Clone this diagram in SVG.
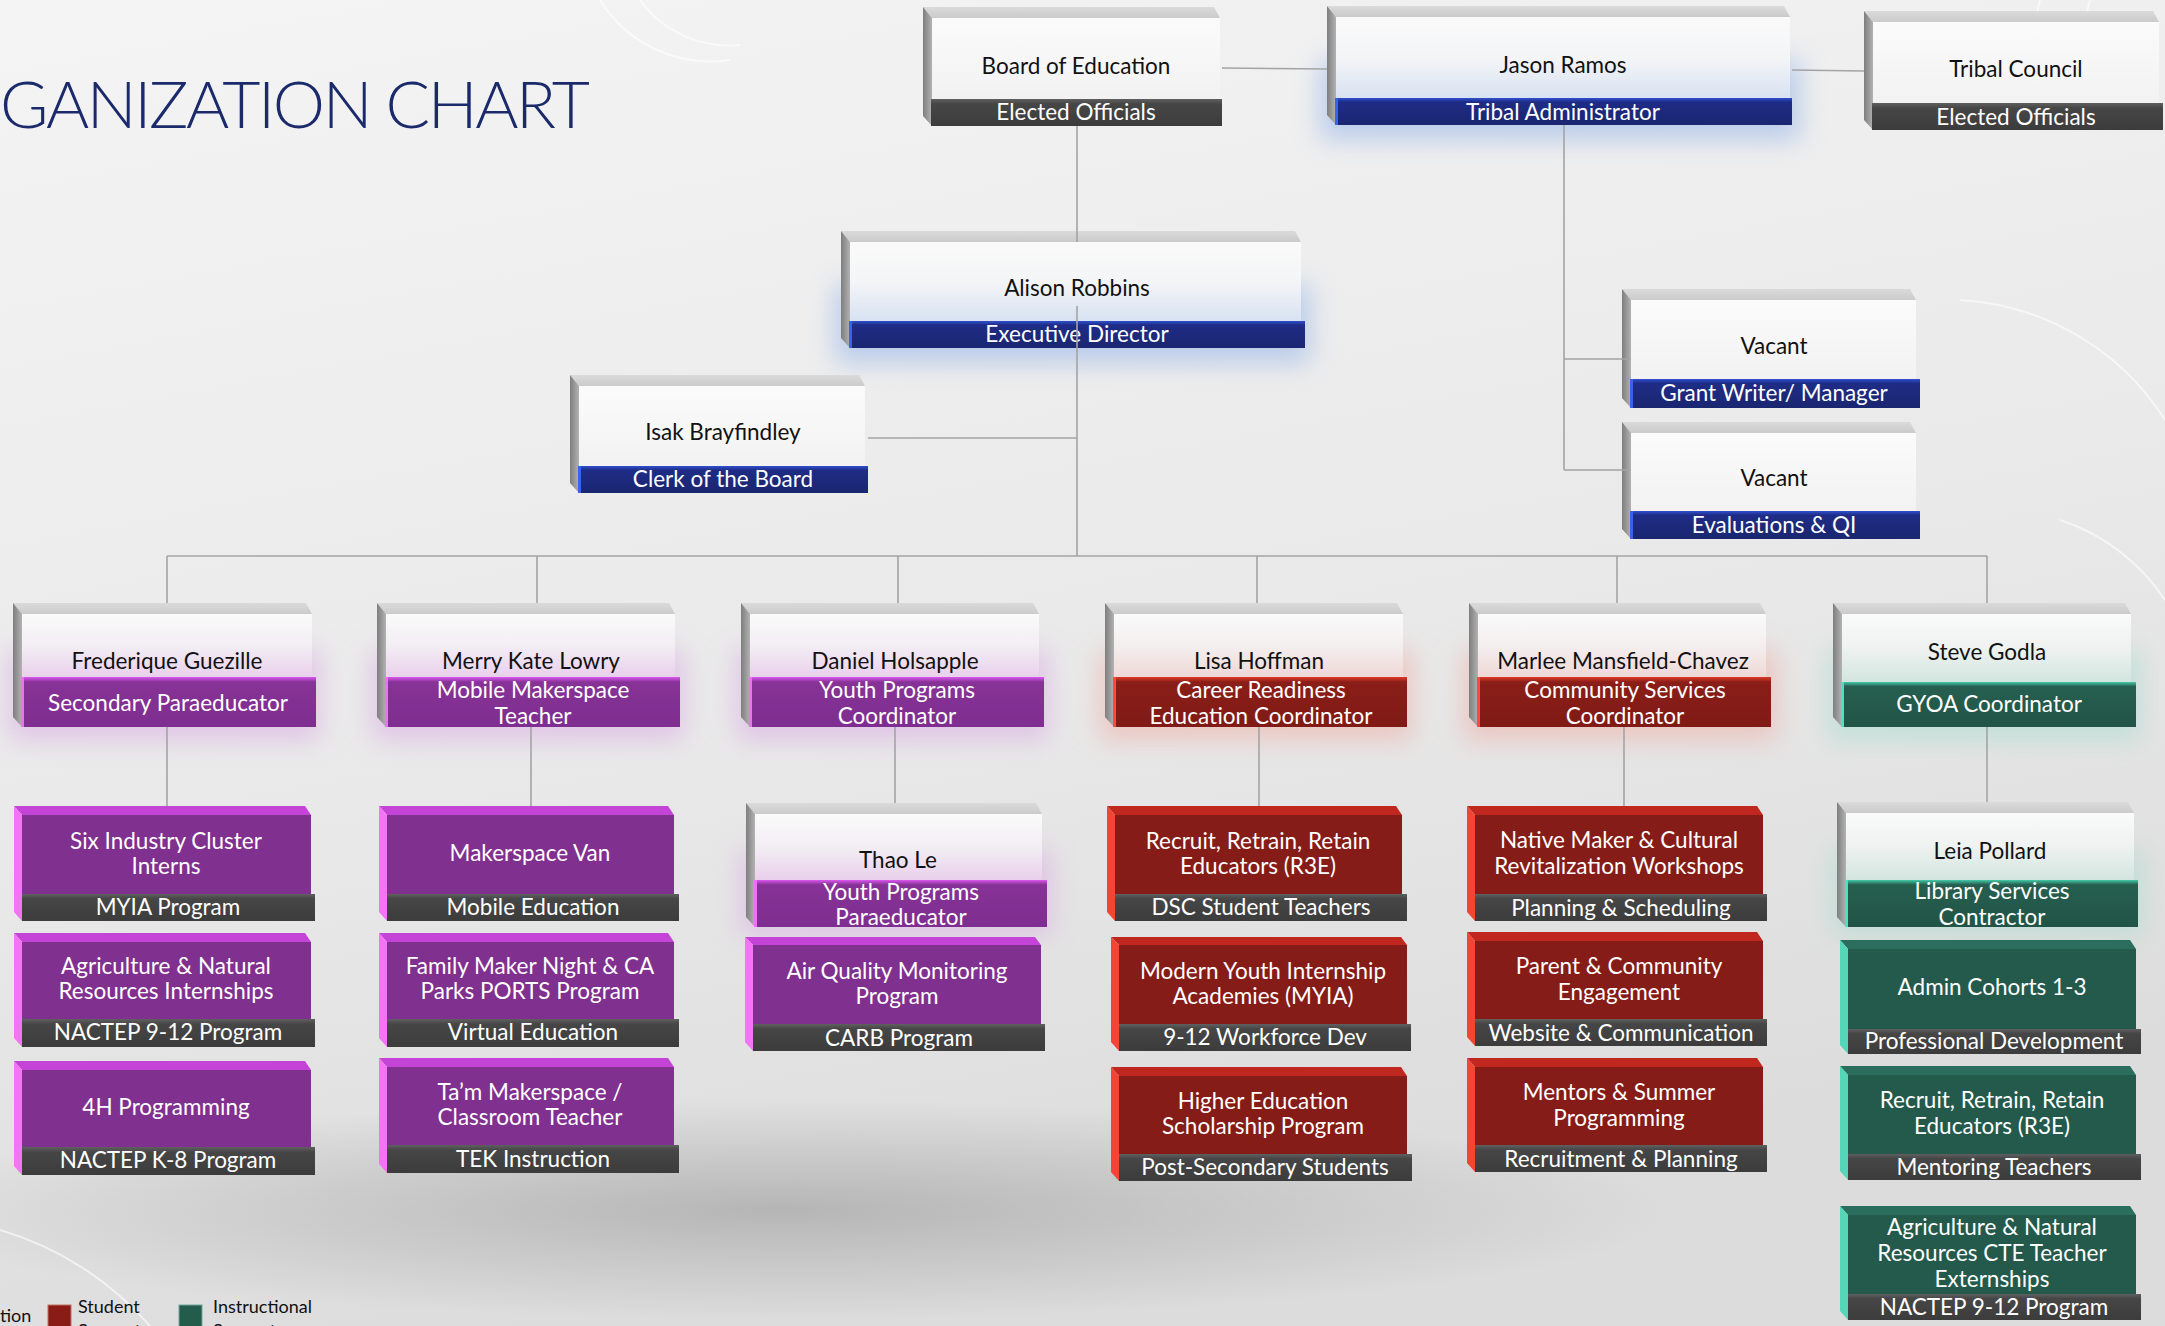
<svg xmlns="http://www.w3.org/2000/svg" width="2165" height="1326" viewBox="0 0 2165 1326">
<defs>
<style>
.nm{font-family:Lato,"Liberation Sans",sans-serif;font-size:22.5px;fill:#111;text-anchor:middle}
.bt{font-family:Lato,"Liberation Sans",sans-serif;font-size:22.5px;fill:#ffffff;text-anchor:middle}
.lg{font-family:Lato,"Liberation Sans",sans-serif;font-size:18px;fill:#111}
.tp{fill:url(#topG)}
.sd{fill:url(#sideG)}
.fw{fill:url(#fWhite)}
.fb{fill:url(#fBlue)}
.fp{fill:url(#fPurple)}
.fr{fill:url(#fRed)}
.fg{fill:url(#fGreen)}
.bd{fill:url(#barDark)}
.bb{fill:url(#barBlue)}
.bp{fill:url(#barPurple)}
.br{fill:url(#barRed)}
.bg{fill:url(#barGreen)}
.pt{fill:#c344d6}.ps{fill:#f374f4}.pf{fill:#80308f}
.rt{fill:#c0281f}.rs{fill:#f24533}.rf{fill:#861c17}
.gt{fill:#2c6e5e}.gs{fill:#56d6b8}.gf{fill:#245a4c}
.eb{fill:#3a62ea}.ep{fill:#f070f4}.er{fill:#ff4a36}.eg{fill:#4fe0c0}
</style>
<linearGradient id="bgG" x1="0" y1="0" x2="0.3" y2="1">
<stop offset="0" stop-color="#f4f4f4"/><stop offset="0.6" stop-color="#e9e9e9"/><stop offset="1" stop-color="#dcdcdc"/>
</linearGradient>
<radialGradient id="shadowG" cx="0.5" cy="0.5" r="0.5">
<stop offset="0" stop-color="#a8a8a8" stop-opacity="0.75"/><stop offset="1" stop-color="#a8a8a8" stop-opacity="0"/>
</radialGradient>
<linearGradient id="topG" x1="0" y1="0" x2="0" y2="1"><stop offset="0" stop-color="#dadada"/><stop offset="1" stop-color="#cbcbcb"/></linearGradient>
<linearGradient id="sideG" x1="0" y1="0" x2="1" y2="0"><stop offset="0" stop-color="#7e7e7e"/><stop offset="1" stop-color="#b2b2b2"/></linearGradient>
<linearGradient id="fWhite" x1="0" y1="0" x2="0" y2="1"><stop offset="0" stop-color="#fbfbfb"/><stop offset="1" stop-color="#f2f2f2"/></linearGradient>
<linearGradient id="fBlue" x1="0" y1="0" x2="0" y2="1"><stop offset="0" stop-color="#fafafa"/><stop offset="0.5" stop-color="#f4f5f7"/><stop offset="1" stop-color="#d8e2f2"/></linearGradient>
<linearGradient id="fPurple" x1="0" y1="0" x2="0" y2="1"><stop offset="0" stop-color="#fafafa"/><stop offset="0.5" stop-color="#f3eef4"/><stop offset="1" stop-color="#e9d0ec"/></linearGradient>
<linearGradient id="fRed" x1="0" y1="0" x2="0" y2="1"><stop offset="0" stop-color="#fafafa"/><stop offset="0.5" stop-color="#f4efef"/><stop offset="1" stop-color="#efd8d6"/></linearGradient>
<linearGradient id="fGreen" x1="0" y1="0" x2="0" y2="1"><stop offset="0" stop-color="#fafafa"/><stop offset="0.5" stop-color="#eef2f1"/><stop offset="1" stop-color="#d3e5df"/></linearGradient>
<linearGradient id="barDark" x1="0" y1="0" x2="0" y2="1"><stop offset="0" stop-color="#606060"/><stop offset="0.18" stop-color="#464646"/><stop offset="1" stop-color="#3c3c3c"/></linearGradient>
<linearGradient id="barBlue" x1="0" y1="0" x2="0" y2="1"><stop offset="0" stop-color="#3050d0"/><stop offset="0.15" stop-color="#1e2c86"/><stop offset="1" stop-color="#1a2670"/></linearGradient>
<linearGradient id="barPurple" x1="0" y1="0" x2="0" y2="1"><stop offset="0" stop-color="#dc58f0"/><stop offset="0.1" stop-color="#873296"/><stop offset="1" stop-color="#7e2e90"/></linearGradient>
<linearGradient id="barRed" x1="0" y1="0" x2="0" y2="1"><stop offset="0" stop-color="#e23a26"/><stop offset="0.1" stop-color="#8a1e18"/><stop offset="1" stop-color="#801a15"/></linearGradient>
<linearGradient id="barGreen" x1="0" y1="0" x2="0" y2="1"><stop offset="0" stop-color="#44caa8"/><stop offset="0.1" stop-color="#265f50"/><stop offset="1" stop-color="#215446"/></linearGradient>
<filter id="glow" x="-30%" y="-60%" width="160%" height="220%"><feGaussianBlur stdDeviation="13"/></filter>
</defs>

<rect x="0" y="0" width="2165" height="1326" fill="url(#bgG)"/>
<ellipse cx="780" cy="1210" rx="900" ry="110" fill="url(#shadowG)"/>
<g fill="none" stroke="#ffffff" stroke-opacity="0.6" stroke-width="2">
<path d="M600,0 A130,130 0 0 0 730,60"/>
<path d="M640,0 A110,110 0 0 0 740,45"/>
<path d="M2165,420 A260,260 0 0 0 1960,300"/>
<path d="M2165,600 A200,200 0 0 0 2060,520"/>
<path d="M0,1230 A320,320 0 0 1 150,1326"/>
<path d="M2040,0 L2010,120 M2090,0 L2060,120"/>
</g>

<text x="0" y="128" font-family="Lato,'Liberation Sans',sans-serif" font-weight="300" font-size="66" fill="#1b2a6b" textLength="590" lengthAdjust="spacing">GANIZATION CHART</text>

<g filter="url(#glow)" opacity="0.55">
<rect x="1320" y="60" width="480" height="80" fill="#8fb0e8"/>
<rect x="835" y="285" width="475" height="78" fill="#8fb0e8"/>
<rect x="8" y="650" width="312" height="90" fill="#d9a6e4"/>
<rect x="372" y="650" width="312" height="90" fill="#d9a6e4"/>
<rect x="736" y="650" width="312" height="90" fill="#d9a6e4"/>
<rect x="1100" y="650" width="312" height="90" fill="#eeaaa2"/>
<rect x="1464" y="650" width="312" height="90" fill="#eeaaa2"/>
<rect x="1828" y="650" width="312" height="90" fill="#a6dccd"/>
<rect x="741" y="850" width="310" height="85" fill="#d9a6e4"/>
<rect x="1832" y="850" width="310" height="85" fill="#a6dccd"/>
</g>

<g id="board">
<polygon class="tp" points="923,7 1214,7 1220,18 932,18"/>
<polygon class="sd" points="923,7 932,18 932,126 923,116"/>
<rect class="fw" x="932" y="18" width="288" height="81"/>
<rect class="bd" x="931" y="99" width="291" height="27"/>
<text class="nm" x="1076" y="74">Board of Education</text>
<text class="bt" x="1076" y="120">Elected Officials</text>
</g>

<g id="jason">
<polygon class="tp" points="1327,6 1784,6 1790,17 1336,17"/>
<polygon class="sd" points="1327,6 1336,17 1336,125 1327,115"/>
<rect class="fb" x="1336" y="17" width="454" height="81"/>
<rect class="bb" x="1335" y="98" width="457" height="27"/>
<rect class="eb" x="1335" y="98" width="3" height="27"/>
<text class="nm" x="1563" y="73">Jason Ramos</text>
<text class="bt" x="1563" y="120">Tribal Administrator</text>
</g>

<g id="tribal">
<polygon class="tp" points="1864,11 2153,11 2159,22 1873,22"/>
<polygon class="sd" points="1864,11 1873,22 1873,130 1864,120"/>
<rect class="fw" x="1873" y="22" width="286" height="81"/>
<rect class="bd" x="1872" y="103" width="291" height="27"/>
<text class="nm" x="2016" y="77">Tribal Council</text>
<text class="bt" x="2016" y="125">Elected Officials</text>
</g>

<g id="alison">
<polygon class="tp" points="841,231 1295,231 1301,242 850,242"/>
<polygon class="sd" points="841,231 850,242 850,348 841,338"/>
<rect class="fb" x="850" y="242" width="451" height="79"/>
<rect class="bb" x="849" y="321" width="456" height="27"/>
<rect class="eb" x="849" y="321" width="3" height="27"/>
<text class="nm" x="1077" y="296">Alison Robbins</text>
<text class="bt" x="1077" y="342">Executive Director</text>
</g>

<g id="isak">
<polygon class="tp" points="570,375 859,375 865,386 579,386"/>
<polygon class="sd" points="570,375 579,386 579,493 570,483"/>
<rect class="fw" x="579" y="386" width="286" height="80"/>
<rect class="bb" x="578" y="466" width="290" height="27"/>
<rect class="eb" x="578" y="466" width="3" height="27"/>
<text class="nm" x="723" y="440">Isak Brayfindley</text>
<text class="bt" x="723" y="487">Clerk of the Board</text>
</g>

<g id="vacant-grant">
<polygon class="tp" points="1622,289 1910,289 1916,300 1631,300"/>
<polygon class="sd" points="1622,289 1631,300 1631,408 1622,398"/>
<rect class="fw" x="1631" y="300" width="285" height="79"/>
<rect class="bb" x="1630" y="379" width="290" height="29"/>
<rect class="eb" x="1630" y="379" width="3" height="29"/>
<text class="nm" x="1774" y="354">Vacant</text>
<text class="bt" x="1774" y="401">Grant Writer/ Manager</text>
</g>

<g id="vacant-eval">
<polygon class="tp" points="1622,422 1910,422 1916,433 1631,433"/>
<polygon class="sd" points="1622,422 1631,433 1631,539 1622,529"/>
<rect class="fw" x="1631" y="433" width="285" height="78"/>
<rect class="bb" x="1630" y="511" width="290" height="28"/>
<rect class="eb" x="1630" y="511" width="3" height="28"/>
<text class="nm" x="1774" y="486">Vacant</text>
<text class="bt" x="1774" y="533">Evaluations &amp; QI</text>
</g>

<g id="frederique">
<polygon class="tp" points="13,603 306,603 312,614 22,614"/>
<polygon class="sd" points="13,603 22,614 22,727 13,717"/>
<rect class="fp" x="22" y="614" width="290" height="63"/>
<rect class="bp" x="21" y="677" width="295" height="50"/>
<rect class="ep" x="21" y="677" width="3" height="50"/>
<text class="nm" x="167" y="669">Frederique Guezille</text>
<text class="bt" x="168" y="711">Secondary Paraeducator</text>
</g>

<g id="merry">
<polygon class="tp" points="377,603 669,603 675,614 386,614"/>
<polygon class="sd" points="377,603 386,614 386,727 377,717"/>
<rect class="fp" x="386" y="614" width="289" height="63"/>
<rect class="bp" x="385" y="677" width="295" height="50"/>
<rect class="ep" x="385" y="677" width="3" height="50"/>
<text class="nm" x="531" y="669">Merry Kate Lowry</text>
<text class="bt" x="533" y="698">Mobile Makerspace</text>
<text class="bt" x="533" y="724">Teacher</text>
</g>

<g id="daniel">
<polygon class="tp" points="741,603 1033,603 1039,614 750,614"/>
<polygon class="sd" points="741,603 750,614 750,727 741,717"/>
<rect class="fp" x="750" y="614" width="289" height="63"/>
<rect class="bp" x="749" y="677" width="295" height="50"/>
<rect class="ep" x="749" y="677" width="3" height="50"/>
<text class="nm" x="895" y="669">Daniel Holsapple</text>
<text class="bt" x="897" y="698">Youth Programs</text>
<text class="bt" x="897" y="724">Coordinator</text>
</g>

<g id="lisa">
<polygon class="tp" points="1105,603 1397,603 1403,614 1114,614"/>
<polygon class="sd" points="1105,603 1114,614 1114,727 1105,717"/>
<rect class="fr" x="1114" y="614" width="289" height="63"/>
<rect class="br" x="1113" y="677" width="294" height="50"/>
<rect class="er" x="1113" y="677" width="3" height="50"/>
<text class="nm" x="1259" y="669">Lisa Hoffman</text>
<text class="bt" x="1261" y="698">Career Readiness</text>
<text class="bt" x="1261" y="724">Education Coordinator</text>
</g>

<g id="marlee">
<polygon class="tp" points="1469,603 1760,603 1766,614 1478,614"/>
<polygon class="sd" points="1469,603 1478,614 1478,727 1469,717"/>
<rect class="fr" x="1478" y="614" width="288" height="63"/>
<rect class="br" x="1477" y="677" width="294" height="50"/>
<rect class="er" x="1477" y="677" width="3" height="50"/>
<text class="nm" x="1623" y="669">Marlee Mansfield-Chavez</text>
<text class="bt" x="1625" y="698">Community Services</text>
<text class="bt" x="1625" y="724">Coordinator</text>
</g>

<g id="steve">
<polygon class="tp" points="1833,603 2125,603 2131,614 1842,614"/>
<polygon class="sd" points="1833,603 1842,614 1842,727 1833,717"/>
<rect class="fg" x="1842" y="614" width="289" height="68"/>
<rect class="bg" x="1841" y="682" width="295" height="45"/>
<rect class="eg" x="1841" y="682" width="3" height="45"/>
<text class="nm" x="1987" y="660">Steve Godla</text>
<text class="bt" x="1989" y="712">GYOA Coordinator</text>
</g>

<g id="six-industry">
<polygon class="pt" points="14,806 305,806 311,815 22,815"/>
<polygon class="ps" points="14,806 22,815 22,921 14,912"/>
<rect class="pf" x="22" y="815" width="289" height="79"/>
<rect class="bd" x="22" y="894" width="293" height="27"/>
<text class="bt" x="166" y="849">Six Industry Cluster</text>
<text class="bt" x="166" y="874">Interns</text>
<text class="bt" x="168" y="915">MYIA Program</text>
</g>
<g id="agri-nr">
<polygon class="pt" points="14,933 305,933 311,942 22,942"/>
<polygon class="ps" points="14,933 22,942 22,1047 14,1038"/>
<rect class="pf" x="22" y="942" width="289" height="77"/>
<rect class="bd" x="22" y="1019" width="293" height="28"/>
<text class="bt" x="166" y="974">Agriculture &amp; Natural</text>
<text class="bt" x="166" y="999">Resources Internships</text>
<text class="bt" x="168" y="1040">NACTEP 9-12 Program</text>
</g>
<g id="four-h">
<polygon class="pt" points="14,1061 305,1061 311,1070 22,1070"/>
<polygon class="ps" points="14,1061 22,1070 22,1175 14,1166"/>
<rect class="pf" x="22" y="1070" width="289" height="77"/>
<rect class="bd" x="22" y="1147" width="293" height="28"/>
<text class="bt" x="166" y="1115">4H Programming</text>
<text class="bt" x="168" y="1168">NACTEP K-8 Program</text>
</g>

<g id="makerspace-van">
<polygon class="pt" points="379,806 668,806 674,815 387,815"/>
<polygon class="ps" points="379,806 387,815 387,921 379,912"/>
<rect class="pf" x="387" y="815" width="287" height="79"/>
<rect class="bd" x="387" y="894" width="292" height="27"/>
<text class="bt" x="530" y="861">Makerspace Van</text>
<text class="bt" x="533" y="915">Mobile Education</text>
</g>
<g id="family-maker">
<polygon class="pt" points="379,933 668,933 674,942 387,942"/>
<polygon class="ps" points="379,933 387,942 387,1047 379,1038"/>
<rect class="pf" x="387" y="942" width="287" height="77"/>
<rect class="bd" x="387" y="1019" width="292" height="28"/>
<text class="bt" x="530" y="974">Family Maker Night &amp; CA</text>
<text class="bt" x="530" y="999">Parks PORTS Program</text>
<text class="bt" x="533" y="1040">Virtual Education</text>
</g>
<g id="tam-makerspace">
<polygon class="pt" points="379,1058 668,1058 674,1067 387,1067"/>
<polygon class="ps" points="379,1058 387,1067 387,1173 379,1164"/>
<rect class="pf" x="387" y="1067" width="287" height="78"/>
<rect class="bd" x="387" y="1145" width="292" height="28"/>
<text class="bt" x="530" y="1100">Ta’m Makerspace /</text>
<text class="bt" x="530" y="1125">Classroom Teacher</text>
<text class="bt" x="533" y="1167">TEK Instruction</text>
</g>

<g id="thao">
<polygon class="tp" points="746,803 1036,803 1042,814 755,814"/>
<polygon class="sd" points="746,803 755,814 755,927 746,917"/>
<rect class="fp" x="755" y="814" width="287" height="66"/>
<rect class="bp" x="754" y="880" width="293" height="47"/>
<rect class="ep" x="754" y="880" width="3" height="47"/>
<text class="nm" x="898" y="868">Thao Le</text>
<text class="bt" x="901" y="900">Youth Programs</text>
<text class="bt" x="901" y="925">Paraeducator</text>
</g>
<g id="air-quality">
<polygon class="pt" points="745,937 1035,937 1041,945 753,945"/>
<polygon class="ps" points="745,937 753,945 753,1051 745,1042"/>
<rect class="pf" x="753" y="945" width="288" height="79"/>
<rect class="bd" x="753" y="1024" width="292" height="27"/>
<text class="bt" x="897" y="979">Air Quality Monitoring</text>
<text class="bt" x="897" y="1004">Program</text>
<text class="bt" x="899" y="1046">CARB Program</text>
</g>

<g id="r3e-dsc">
<polygon class="rt" points="1107,806 1396,806 1402,815 1115,815"/>
<polygon class="rs" points="1107,806 1115,815 1115,921 1107,912"/>
<rect class="rf" x="1115" y="815" width="287" height="79"/>
<rect class="bd" x="1115" y="894" width="292" height="27"/>
<text class="bt" x="1258" y="849">Recruit, Retrain, Retain</text>
<text class="bt" x="1258" y="874">Educators (R3E)</text>
<text class="bt" x="1261" y="915">DSC Student Teachers</text>
</g>
<g id="modern-youth">
<polygon class="rt" points="1111,937 1401,937 1407,945 1119,945"/>
<polygon class="rs" points="1111,937 1119,945 1119,1051 1111,1042"/>
<rect class="rf" x="1119" y="945" width="288" height="79"/>
<rect class="bd" x="1119" y="1024" width="292" height="27"/>
<text class="bt" x="1263" y="979">Modern Youth Internship</text>
<text class="bt" x="1263" y="1004">Academies (MYIA)</text>
<text class="bt" x="1265" y="1045">9-12 Workforce Dev</text>
</g>
<g id="higher-ed">
<polygon class="rt" points="1111,1067 1401,1067 1407,1076 1119,1076"/>
<polygon class="rs" points="1111,1067 1119,1076 1119,1181 1111,1172"/>
<rect class="rf" x="1119" y="1076" width="288" height="78"/>
<rect class="bd" x="1119" y="1154" width="293" height="27"/>
<text class="bt" x="1263" y="1109">Higher Education</text>
<text class="bt" x="1263" y="1134">Scholarship Program</text>
<text class="bt" x="1265" y="1175">Post-Secondary Students</text>
</g>

<g id="native-maker">
<polygon class="rt" points="1467,806 1757,806 1763,815 1475,815"/>
<polygon class="rs" points="1467,806 1475,815 1475,921 1467,912"/>
<rect class="rf" x="1475" y="815" width="288" height="79"/>
<rect class="bd" x="1475" y="894" width="292" height="27"/>
<text class="bt" x="1619" y="848">Native Maker &amp; Cultural</text>
<text class="bt" x="1619" y="874">Revitalization Workshops</text>
<text class="bt" x="1621" y="916">Planning &amp; Scheduling</text>
</g>
<g id="parent-community">
<polygon class="rt" points="1467,932 1757,932 1763,941 1475,941"/>
<polygon class="rs" points="1467,932 1475,941 1475,1046 1467,1037"/>
<rect class="rf" x="1475" y="941" width="288" height="78"/>
<rect class="bd" x="1475" y="1019" width="292" height="27"/>
<text class="bt" x="1619" y="974">Parent &amp; Community</text>
<text class="bt" x="1619" y="1000">Engagement</text>
<text class="bt" x="1621" y="1041">Website &amp; Communication</text>
</g>
<g id="mentors-summer">
<polygon class="rt" points="1467,1058 1757,1058 1763,1067 1475,1067"/>
<polygon class="rs" points="1467,1058 1475,1067 1475,1172 1467,1163"/>
<rect class="rf" x="1475" y="1067" width="288" height="78"/>
<rect class="bd" x="1475" y="1145" width="292" height="27"/>
<text class="bt" x="1619" y="1100">Mentors &amp; Summer</text>
<text class="bt" x="1619" y="1126">Programming</text>
<text class="bt" x="1621" y="1167">Recruitment &amp; Planning</text>
</g>

<g id="leia">
<polygon class="tp" points="1837,802 2128,802 2134,813 1846,813"/>
<polygon class="sd" points="1837,802 1846,813 1846,927 1837,917"/>
<rect class="fg" x="1846" y="813" width="288" height="67"/>
<rect class="bg" x="1845" y="880" width="293" height="47"/>
<rect class="eg" x="1845" y="880" width="3" height="47"/>
<text class="nm" x="1990" y="859">Leia Pollard</text>
<text class="bt" x="1992" y="899">Library Services</text>
<text class="bt" x="1992" y="925">Contractor</text>
</g>
<g id="admin-cohorts">
<polygon class="gt" points="1840,940 2130,940 2136,949 1848,949"/>
<polygon class="gs" points="1840,940 1848,949 1848,1054 1840,1045"/>
<rect class="gf" x="1848" y="949" width="288" height="80"/>
<rect class="bd" x="1848" y="1029" width="293" height="25"/>
<text class="bt" x="1992" y="995">Admin Cohorts 1-3</text>
<text class="bt" x="1994" y="1049">Professional Development</text>
</g>
<g id="r3e-mentoring">
<polygon class="gt" points="1840,1066 2130,1066 2136,1075 1848,1075"/>
<polygon class="gs" points="1840,1066 1848,1075 1848,1180 1840,1171"/>
<rect class="gf" x="1848" y="1075" width="288" height="79"/>
<rect class="bd" x="1848" y="1154" width="293" height="26"/>
<text class="bt" x="1992" y="1108">Recruit, Retrain, Retain</text>
<text class="bt" x="1992" y="1134">Educators (R3E)</text>
<text class="bt" x="1994" y="1175">Mentoring Teachers</text>
</g>
<g id="agri-cte">
<polygon class="gt" points="1840,1206 2130,1206 2136,1215 1848,1215"/>
<polygon class="gs" points="1840,1206 1848,1215 1848,1320 1840,1311"/>
<rect class="gf" x="1848" y="1215" width="288" height="79"/>
<rect class="bd" x="1848" y="1294" width="293" height="26"/>
<text class="bt" x="1992" y="1235">Agriculture &amp; Natural</text>
<text class="bt" x="1992" y="1261">Resources CTE Teacher</text>
<text class="bt" x="1992" y="1287">Externships</text>
<text class="bt" x="1994" y="1315">NACTEP 9-12 Program</text>
</g>

<g id="connectors" fill="none" stroke="#a4a4a4" stroke-width="1.6">
<path d="M1222,68 L1327,69"/>
<path d="M1792,70 L1864,71"/>
<path d="M1077,126 V242 M1077,306 V556"/>
<path d="M1564,125 V470 M1564,359 H1631 M1564,470 H1631"/>
<path d="M868,438 H1077"/>
<path d="M167,556 H1987"/>
<path d="M167,556 V603 M537,556 V603 M898,556 V603 M1257,556 V603 M1617,556 V603 M1987,556 V603"/>
<path d="M167,727 V806 M531,727 V806 M895,727 V803 M1259,727 V806 M1624,727 V806 M1987,727 V802"/>
</g>

<g id="legend">
<text class="lg" x="0" y="1322">tion</text>
<rect x="48" y="1305" width="23" height="30" fill="#8a1c17" stroke="#c07060" stroke-width="1"/>
<text class="lg" x="78" y="1313">Student</text>
<text class="lg" x="78" y="1337">Support</text>
<rect x="179" y="1305" width="23" height="30" fill="#245c4c" stroke="#6fa898" stroke-width="1"/>
<text class="lg" x="213" y="1313">Instructional</text>
<text class="lg" x="213" y="1337">Support</text>
</g>
</svg>
